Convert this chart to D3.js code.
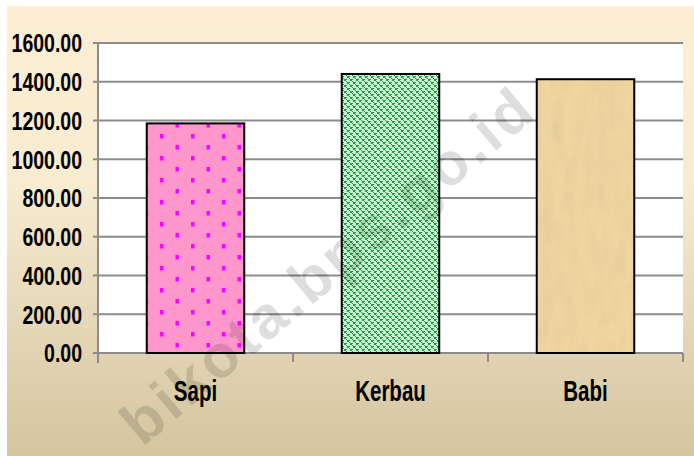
<!DOCTYPE html>
<html>
<head>
<meta charset="utf-8">
<script src="https://cdn.jsdelivr.net/npm/d3@7"></script>
<style>
  html, body { margin: 0; padding: 0; background: #fff; }
  svg { display: block; }
  .lbl { font-family: "Liberation Sans", Arial, sans-serif; font-weight: bold; fill: #000; }
</style>
</head>
<body>
<svg id="chart" width="694" height="456"></svg>
<script>
'use strict';

// data
let categories = ["Sapi", "Kerbau", "Babi"]
let values = [1185, 1440, 1413]
let yTicks = [0, 200, 400, 600, 800, 1000, 1200, 1400, 1600]
let fills = ["url(#dots)", "url(#checks)", "url(#paper)"]

let svg = d3.select("#chart")
let width = +svg.attr("width")
let height = +svg.attr("height")
let margin = { top: 43, right: 11, bottom: 103, left: 98 }
let plotW = width - margin.left - margin.right
let plotH = height - margin.top - margin.bottom

let defs = svg.append("defs")

let bg = defs.append("linearGradient").attr("id", "bg")
    .attr("x1", 0).attr("y1", 0).attr("x2", 0).attr("y2", 1)
bg.append("stop").attr("offset", "0%").attr("stop-color", "#fdeed3")
bg.append("stop").attr("offset", "40%").attr("stop-color", "#f7ebd0")
bg.append("stop").attr("offset", "100%").attr("stop-color", "#d4c59f")

// pink with magenta dots
let dots = defs.append("pattern").attr("id", "dots")
    .attr("patternUnits", "userSpaceOnUse")
    .attr("width", 31).attr("height", 22)
dots.append("rect").attr("width", 31).attr("height", 22).attr("fill", "#ff96cc")
dots.append("rect").attr("x", 0).attr("y", 3).attr("width", 3.5).attr("height", 4.5).attr("fill", "#ff00ff")
dots.append("rect").attr("x", 15.5).attr("y", 14).attr("width", 3.5).attr("height", 4.5).attr("fill", "#ff00ff")

// green checker
let checks = defs.append("pattern").attr("id", "checks")
    .attr("patternUnits", "userSpaceOnUse")
    .attr("width", 6).attr("height", 6)
checks.append("rect").attr("width", 6).attr("height", 6).attr("fill", "#c6f6c6")
checks.append("path").attr("d", "M0,0h2v2h-2z M3,3h2v2h-2z M2,2h1v1h-1z M5,5h1v1h-1z M2,0h1v1h-1z M5,3h1v1h-1z")
    .attr("fill", "#2a9458")

// parchment texture
let paperFilter = defs.append("filter").attr("id", "grain")
    .attr("x", 0).attr("y", 0).attr("width", 1).attr("height", 1)
paperFilter.append("feTurbulence").attr("type", "fractalNoise")
    .attr("baseFrequency", "0.09 0.03").attr("numOctaves", 3).attr("seed", 4)
paperFilter.append("feColorMatrix").attr("type", "matrix")
    .attr("values", "0 0 0 0 0.62  0 0 0 0 0.5  0 0 0 0 0.28  0 0 0 -1.6 1.05")
let paper = defs.append("pattern").attr("id", "paper")
    .attr("patternUnits", "userSpaceOnUse")
    .attr("width", 694).attr("height", 456)
paper.append("rect").attr("width", 694).attr("height", 456).attr("fill", "#efd59f")
paper.append("rect").attr("width", 694).attr("height", 456)
    .attr("filter", "url(#grain)").attr("opacity", 0.35)

svg.append("rect")
    .attr("x", 7).attr("y", 6)
    .attr("width", width - 7).attr("height", height - 6)
    .attr("fill", "url(#bg)")

let x = d3.scaleBand().domain(categories).range([0, plotW]).paddingInner(0.5).paddingOuter(0.25)
let xEdge = d3.scaleBand().domain(categories).range([0, plotW])
let y = d3.scaleLinear().domain([0, 1600]).range([plotH, 0])

let g = svg.append("g").attr("transform", "translate(" + margin.left + "," + margin.top + ")")

g.append("rect").attr("width", plotW).attr("height", plotH).attr("fill", "#fff")

// gridlines and y axis ticks
g.append("g").selectAll("line")
    .data(yTicks)
    .enter().append("line")
    .attr("x1", -5).attr("x2", plotW)
    .attr("y1", function(d) { return y(d) })
    .attr("y2", function(d) { return y(d) })
    .attr("stroke", "#8c8c8c").attr("stroke-width", 2)

g.append("line")
    .attr("x1", 0).attr("x2", 0).attr("y1", 0).attr("y2", plotH + 10)
    .attr("stroke", "#8c8c8c").attr("stroke-width", 2)

g.append("g").selectAll("line")
    .data(categories)
    .enter().append("line")
    .attr("x1", function(d) { return xEdge(d) + xEdge.bandwidth() })
    .attr("x2", function(d) { return xEdge(d) + xEdge.bandwidth() })
    .attr("y1", plotH).attr("y2", plotH + 9)
    .attr("stroke", "#8c8c8c").attr("stroke-width", 2)

g.append("g").selectAll("text")
    .data(yTicks)
    .enter().append("text")
    .attr("class", "lbl")
    .attr("transform", function(d) { return "translate(-16," + y(d) + ") scale(0.78,1.04)" })
    .attr("dy", "0.36em")
    .attr("text-anchor", "end")
    .attr("font-size", 25)
    .text(function(d) { return d3.format(".2f")(d) })

// bars
g.append("g").selectAll("rect")
    .data(values)
    .enter().append("rect")
    .attr("x", function(d, i) { return x(categories[i]) })
    .attr("y", function(d) { return y(d) })
    .attr("width", x.bandwidth())
    .attr("height", function(d) { return plotH - y(d) })
    .attr("fill", function(d, i) { return fills[i] })
    .attr("stroke", "#000").attr("stroke-width", 2)

g.append("g").selectAll("text")
    .data(categories)
    .enter().append("text")
    .attr("class", "lbl")
    .attr("font-size", 27)
    .attr("text-anchor", "middle")
    .attr("transform", function(d) {
        return "translate(" + (xEdge(d) + xEdge.bandwidth() / 2) + "," + (plotH + 48) + ") scale(0.76,1.06)"
    })
    .text(function(d) { return d })

// watermark
svg.append("text")
    .attr("transform", "translate(326,266) rotate(-40)")
    .attr("text-anchor", "middle")
    .attr("dy", "0.35em")
    .attr("font-family", "Liberation Sans, Arial, sans-serif")
    .attr("font-weight", "bold")
    .attr("font-size", 60)
    .attr("textLength", 515)
    .attr("fill", "#000")
    .attr("fill-opacity", 0.13)
    .text("bikota.bps.go.id")
</script>
</body>
</html>
